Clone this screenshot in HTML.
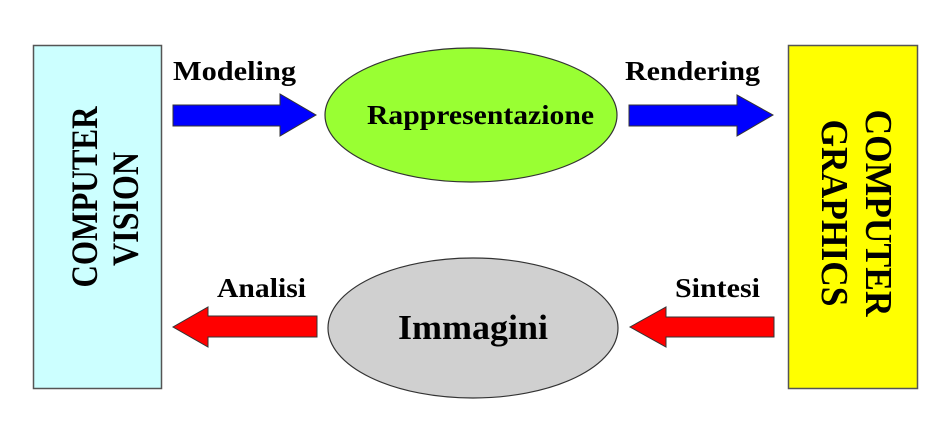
<!DOCTYPE html>
<html><head><meta charset="utf-8"><style>html,body{margin:0;padding:0;background:#fff}svg{display:block}</style></head>
<body>
<svg width="939" height="422" viewBox="0 0 939 422" xmlns="http://www.w3.org/2000/svg" font-family="Liberation Serif, serif" font-weight="bold">
<rect x="33.5" y="45.5" width="128" height="343" fill="#ccffff" stroke="#555" stroke-width="1.5"/>
<rect x="788.5" y="45.5" width="129" height="343" fill="#ffff00" stroke="#555" stroke-width="1.5"/>
<ellipse cx="471" cy="115" rx="146" ry="67" fill="#99ff33" stroke="#333" stroke-width="1.2"/>
<ellipse cx="473" cy="328" rx="145" ry="70" fill="#d0d0d0" stroke="#333" stroke-width="1.2"/>
<polygon points="173,105 280,105 280,94 316,115 280,136 280,126 173,126" fill="#0000ff" stroke="#333" stroke-width="1"/>
<polygon points="629,105 737,105 737,95 773,115 737,136 737,126 629,126" fill="#0000ff" stroke="#333" stroke-width="1"/>
<polygon points="317,316 208,316 208,307 173,327 208,347 208,337 317,337" fill="#ff0000" stroke="#333" stroke-width="1"/>
<polygon points="774,317 666,317 666,307 630,327 666,347 666,337 774,337" fill="#ff0000" stroke="#333" stroke-width="1"/>
<text x="173" y="80" font-size="27" textLength="123" lengthAdjust="spacingAndGlyphs">Modeling</text>
<text x="625" y="80" font-size="27" textLength="135" lengthAdjust="spacingAndGlyphs">Rendering</text>
<text x="217" y="297" font-size="27" textLength="89" lengthAdjust="spacingAndGlyphs">Analisi</text>
<text x="675" y="297" font-size="27" textLength="85" lengthAdjust="spacingAndGlyphs">Sintesi</text>
<text x="367" y="124" font-size="27" textLength="227" lengthAdjust="spacingAndGlyphs">Rappresentazione</text>
<text x="398" y="339" font-size="35" textLength="150" lengthAdjust="spacingAndGlyphs">Immagini</text>
<g transform="translate(97,197) rotate(-90)"><text x="0" y="0" font-size="37" text-anchor="middle" textLength="181" lengthAdjust="spacingAndGlyphs">COMPUTER</text></g>
<g transform="translate(138,209) rotate(-90)"><text x="0" y="0" font-size="37" text-anchor="middle" textLength="114" lengthAdjust="spacingAndGlyphs">VISION</text></g>
<g transform="translate(866,213) rotate(90)"><text x="0" y="0" font-size="38" text-anchor="middle" textLength="207" lengthAdjust="spacingAndGlyphs">COMPUTER</text></g>
<g transform="translate(822,213) rotate(90)"><text x="0" y="0" font-size="38" text-anchor="middle" textLength="187" lengthAdjust="spacingAndGlyphs">GRAPHICS</text></g>
</svg>
</body></html>
